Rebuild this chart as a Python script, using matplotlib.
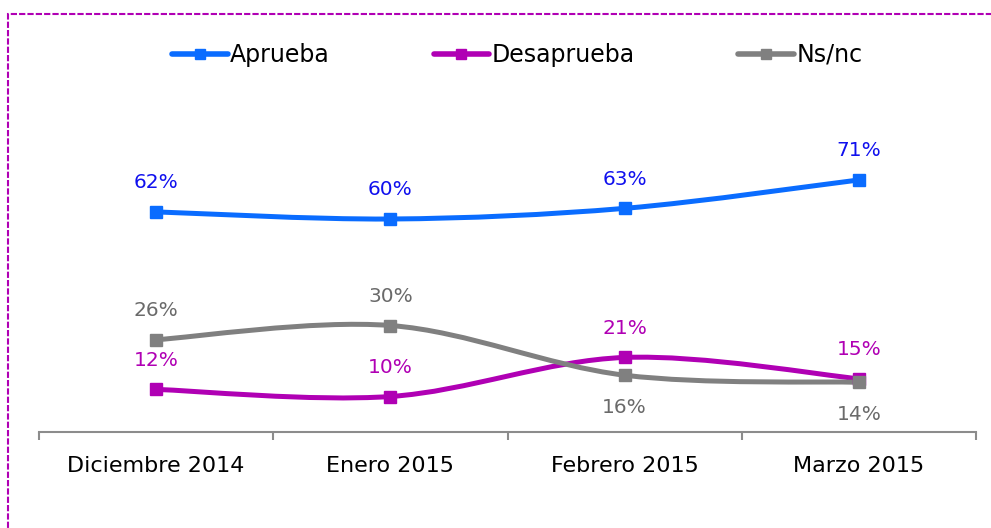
import matplotlib.pyplot as plt
from matplotlib.path import Path
from matplotlib.patches import PathPatch, Rectangle
from matplotlib.lines import Line2D

MONTHS = ["Diciembre 2014", "Enero 2015", "Febrero 2015", "Marzo 2015"]
APRUEBA = [62, 60, 63, 71]
DESAPRUEBA = [12, 10, 21, 15]
NSNC = [26, 30, 16, 14]

BLUE = "#0A6CFF"
BLUE_TXT = "#1010EE"
MAGENTA = "#B000B4"
GREY = "#808080"
GREY_TXT = "#6A6A6A"


def smooth_path(xs, ys):
    """Excel-like smoothed line as cubic Bezier segments."""
    pts = list(zip(xs, ys))
    n = len(pts)
    verts = [pts[0]]
    codes = [Path.MOVETO]
    for i in range(n - 1):
        p0 = pts[max(i - 1, 0)]
        p1 = pts[i]
        p2 = pts[i + 1]
        p3 = pts[min(i + 2, n - 1)]
        c1 = (p1[0] + (p2[0] - p0[0]) / 6, p1[1] + (p2[1] - p0[1]) / 6)
        c2 = (p2[0] - (p3[0] - p1[0]) / 6, p2[1] - (p3[1] - p1[1]) / 6)
        verts += [c1, c2, p2]
        codes += [Path.CURVE4] * 3
    return Path(verts, codes)


fig = plt.figure(figsize=(9.91, 5.28), dpi=100)
ax = fig.add_axes([39 / 991, 1 - 432 / 528, 937 / 991, 284 / 528])
ax.set_xlim(-0.5, 3.5)
ax.set_ylim(0, 80)

x = list(range(len(MONTHS)))
series = [
    ("Aprueba", APRUEBA, BLUE, BLUE_TXT, ["up"] * 4),
    ("Desaprueba", DESAPRUEBA, MAGENTA, MAGENTA, ["up"] * 4),
    ("Ns/nc", NSNC, GREY, GREY_TXT, ["up", "up", "down", "down"]),
]

handles = []
for name, vals, color, tcolor, pos in series:
    ax.add_patch(PathPatch(smooth_path(x, vals), fill=False, edgecolor=color,
                           linewidth=3.6, capstyle="round", zorder=2))
    ax.plot(x, vals, linestyle="none", marker="s", markersize=8.5,
            color=color, zorder=3)
    for xi, v, p in zip(x, vals, pos):
        dy = 21 if p == "up" else -23
        ax.annotate(f"{v}%", (xi, v), xytext=(0, dy), textcoords="offset points",
                    ha="center", va="center", fontsize=14.5, color=tcolor,
                    annotation_clip=False)
    handles.append(Line2D([], [], color=color, linewidth=4, marker="s",
                          markersize=6.5, solid_capstyle="round"))

for side in ("top", "right", "left"):
    ax.spines[side].set_visible(False)
ax.spines["bottom"].set_color("#8C8C8C")
ax.spines["bottom"].set_linewidth(1.5)
ax.set_yticks([])
ax.set_xticks(x)
ax.set_xticklabels(MONTHS, fontsize=16)
ax.tick_params(axis="x", which="major", length=0, pad=17)
ax.set_xticks([-0.5, 0.5, 1.5, 2.5, 3.5], minor=True)
ax.tick_params(axis="x", which="minor", length=6, width=1.5, color="#8C8C8C")

fig.legend(handles, [s[0] for s in series], loc="center", bbox_to_anchor=(0.522, 1 - 55 / 528),
           ncol=3, frameon=False, fontsize=17, handlelength=2.35, handletextpad=0.1,
           columnspacing=4.4)

# dashed frame around the chart area
fig.patches.append(Rectangle((8 / 991, -0.2), 1.2, 0.2 + (1 - 14 / 528),
                             transform=fig.transFigure, fill=False,
                             edgecolor=MAGENTA, linewidth=1.5,
                             linestyle=(0, (3, 1))))

fig.savefig("out.png", dpi=100)
